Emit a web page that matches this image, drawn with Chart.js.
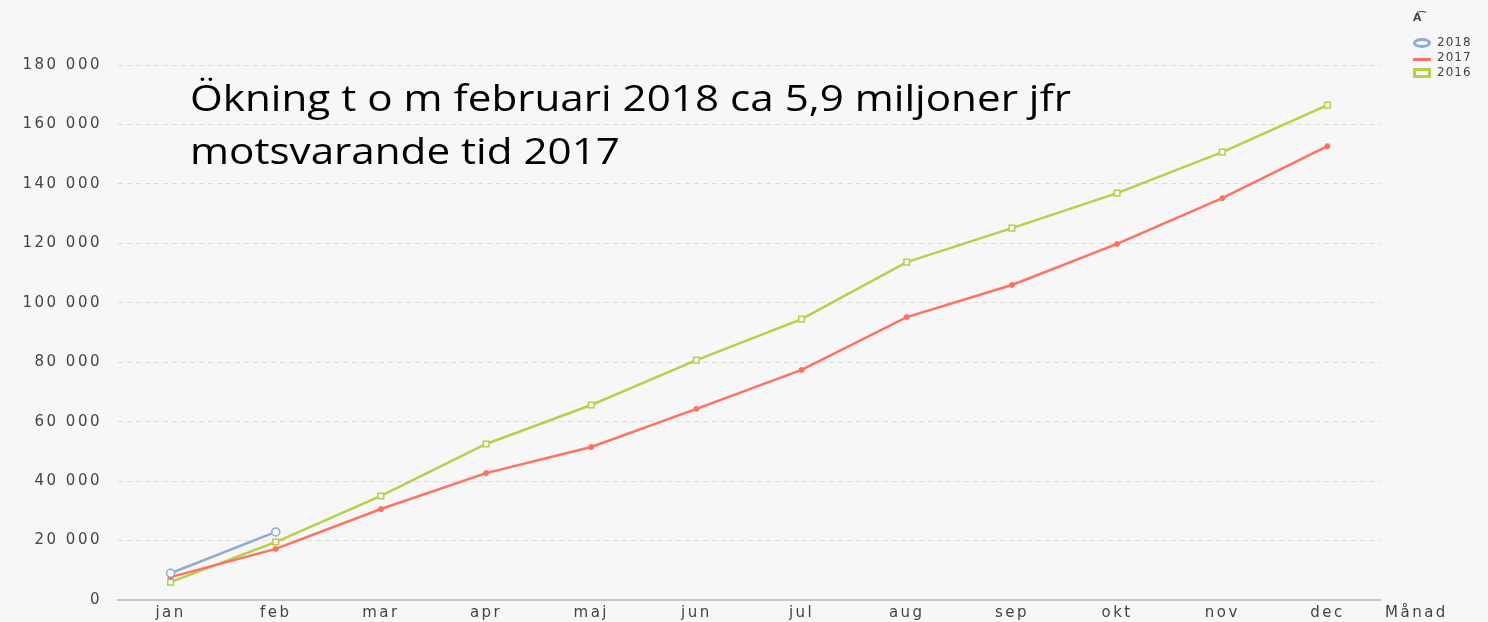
<!DOCTYPE html>
<html>
<head>
<meta charset="utf-8">
<script src="https://cdn.jsdelivr.net/npm/chart.js@4"></script>
<style>
  body { margin: 0; background: #f7f7f7; overflow: hidden; }
  #wrap { position: relative; width: 1488px; height: 622px; }
  canvas { display: block; }
  #note { position: absolute; left: 190px; top: 70px; font-family: "Open Sans", sans-serif; font-size: 37px; line-height: 53px; color: #000; transform: scaleX(1.14); transform-origin: left top; white-space: nowrap; }
  #xtitle { position: absolute; left: 1385px; top: 603px; font-family: "DejaVu Sans", sans-serif; font-size: 15px; letter-spacing: 2.5px; color: #444; }
  #legend { position: absolute; left: 1410px; top: 8px; font-family: "DejaVu Sans", sans-serif; font-size: 12px; letter-spacing: 1px; color: #444; }
  #legend .row { height: 15px; line-height: 15px; position: relative; padding-left: 27px; }
  #legend .ic { position: absolute; left: 3px; top: 3px; width: 18px; height: 10px; box-sizing: border-box; }
</style>
</head>
<body>
<div id="wrap">
  <canvas id="myChart" width="1488" height="622"></canvas>
  <div id="note">Ökning t o m februari 2018 ca 5,9 miljoner jfr<br>motsvarande tid 2017</div>
  <div id="xtitle">Månad</div>
  <div id="legend"></div>
</div>
<script>
var months = ["jan","feb","mar","apr","maj","jun","jul","aug","sep","okt","nov","dec"];
var seriesNames = ["2018","2017","2016"];
var values2018 = [9000, 22900];
var values2017 = [7700, 17200, 30600, 42700, 51500, 64300, 77400, 95200, 106000, 119800, 135200, 152700];
var values2016 = [6000, 19500, 35000, 52500, 65600, 80700, 94500, 113700, 125100, 136900, 150700, 166500];
var colors = ["#8eabd3", "#ff7262", "#b3d24a"];

function onload() {
  buildLegend();
  drawChart();
}

function buildLegend() {
  var legend = document.getElementById("legend");
  var html = '<div class="row" style="padding-left:3px;font-weight:bold;font-size:11px;height:27px;line-height:20px;">A&#x0361;</div>';
  for (var i = 0; i < seriesNames.length; i++) {
    var icon;
    if (i == 0) icon = 'border:3px solid ' + colors[i] + ';border-radius:50%;';
    else if (i == 1) icon = 'border-top:3px solid ' + colors[i] + ';top:8px;';
    else icon = 'border:3px solid ' + colors[i] + ';background:#f7f7f7;';
    html += '<div class="row"><span class="ic" style="' + icon + '"></span>' + seriesNames[i] + '</div>';
  }
  legend.innerHTML = html;
}

function drawChart() {
  var spacing = {
    id: 'spacing',
    beforeLayout: function(chart) { chart.ctx.letterSpacing = '2.5px'; },
    beforeDraw: function(chart) {
      chart.ctx.letterSpacing = '2.5px';
      chart.ctx.fillStyle = '#f7f7f7';
      chart.ctx.fillRect(0, 0, chart.width, chart.height);
    }
  };

  var data = {
    labels: months,
    datasets: [
      {
        label: seriesNames[0], data: values2018,
        borderColor: colors[0], backgroundColor: '#f7f7f7',
        borderWidth: 2.5, pointStyle: 'circle', pointRadius: 4, pointBorderWidth: 1.5
      },
      {
        label: seriesNames[1], data: values2017,
        borderColor: colors[1], backgroundColor: colors[1],
        borderWidth: 2.5, pointStyle: 'circle', pointRadius: 2.5, pointBorderWidth: 1
      },
      {
        label: seriesNames[2], data: values2016,
        borderColor: colors[2], backgroundColor: '#f7f7f7',
        borderWidth: 2.5, pointStyle: 'rect', pointRadius: 4, pointBorderWidth: 1.5
      }
    ]
  };

  var options = {
    responsive: false,
    animation: false,
    layout: { padding: { top: 65, right: 108, left: 0, bottom: 0 } },
    plugins: { legend: { display: false }, tooltip: { enabled: false } },
    scales: {
      x: {
        offset: true,
        grid: { display: false },
        border: { color: '#c8c8c8', width: 2 },
        ticks: { color: '#444', padding: -3, font: { family: 'DejaVu Sans', size: 15, lineHeight: 1.1 } },
        afterFit: function(scale) { scale.height = 22; }
      },
      y: {
        min: 0, max: 180000,
        ticks: {
          stepSize: 20000, color: '#444', padding: 16,
          font: { family: 'DejaVu Sans', size: 15, lineHeight: 0.5 },
          callback: function(v) { return v.toLocaleString('sv-SE').replace(/\u00a0/g, ' '); }
        },
        grid: { color: '#dcdcdc', drawTicks: false },
        border: { display: false, dash: [5, 4] },
        afterFit: function(scale) { scale.width = 118; }
      }
    }
  };

  var ctx = document.getElementById("myChart").getContext("2d");
  var myChart = new Chart(ctx, {
    type: 'line',
    data: data,
    options: options,
    plugins: [spacing]
  });
}

onload();
</script>
</body>
</html>
